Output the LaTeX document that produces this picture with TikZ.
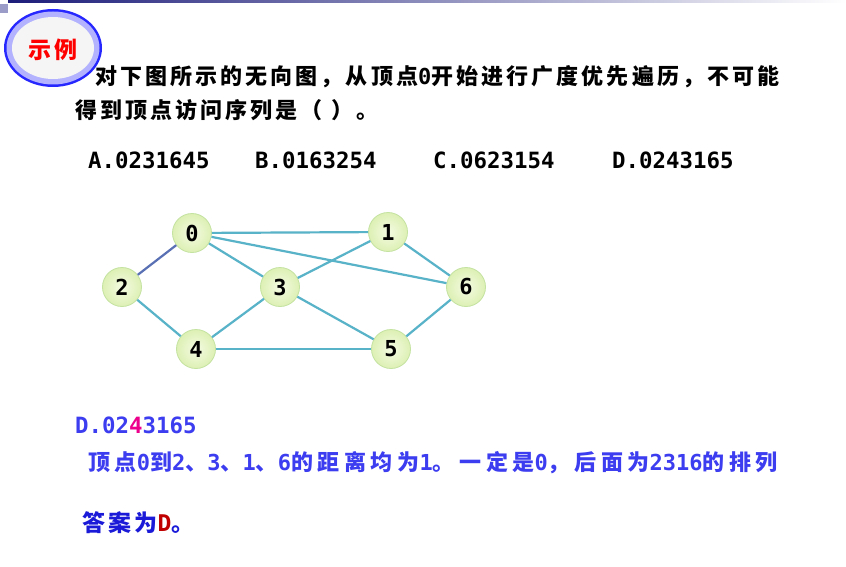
\documentclass[tikz,border=0pt]{standalone}
\usepackage{fontspec}
\usepackage{xcolor}
\usepackage{tikz}
\setmonofont{DejaVu Sans Mono}
\newfontfamily\cjk{Noto Sans CJK SC}[LetterSpace=14]
\newfontfamily\cjkwide{Noto Sans CJK SC}[LetterSpace=21]
\newcommand\dg[1]{{\ttfamily\bfseries #1}}
\definecolor{navy}{HTML}{1C1C7A}
\definecolor{edgeblue}{HTML}{58B2C8}
\definecolor{edgeslate}{HTML}{5A70B4}
\definecolor{nodein}{HTML}{F4FBE2}
\definecolor{nodeout}{HTML}{DDF0B4}
\definecolor{nodeline}{HTML}{C4E2A0}
\definecolor{textblue}{HTML}{3C3CF0}
\definecolor{ansblue}{HTML}{1A1AD8}
\definecolor{darkred}{HTML}{C00000}

\begin{document}
\begin{tikzpicture}[x=1pt, y=-1pt,
    main/.style = {circle, draw=nodeline, line width=0.8pt, inner color=nodein, outer color=nodeout, minimum size=39pt, inner sep=0pt, font=\fontsize{22}{22}\selectfont\ttfamily\bfseries},
    link/.style = {edgeblue, line width=2.2pt},
    txt/.style = {anchor=west, inner sep=0pt, font=\fontsize{22}{26}\selectfont\cjk\bfseries},
    opt/.style = {anchor=west, inner sep=0pt, font=\fontsize{22.4}{26}\selectfont\ttfamily\bfseries}]
    \useasboundingbox (0,0) rectangle (846,567);
    \fill[white] (0,0) rectangle (846,567);
    \shade[left color=navy, right color=white] (8,0) rectangle (846,3);
    \fill[blue!30!gray!60] (0,4) rectangle (8,13);
    % badge
    \fill[blue!85] (53,48) ellipse (49 and 39);
    \fill[blue!30] (53,48) ellipse (46.5 and 36.5);
    \fill[blue!3!gray!8] (53,48) ellipse (41 and 31);
    \node (badge) at (53,50) {\fontsize{23}{23}\selectfont\cjk\bfseries\color{red}示例};
    % question
    \node[txt] (q1) at (95,77) {对下图所示的无向图，从顶点\dg{0}开始进行广度优先遍历，不可能};
    \node[txt] (q2) at (75,110) {得到顶点访问序列是（ ）。};
    \node[opt] (optA) at (88,160) {A.0231645};
    \node[opt] (optB) at (255,160) {B.0163254};
    \node[opt] (optC) at (433,160) {C.0623154};
    \node[opt] (optD) at (612,160) {D.0243165};
    % graph
    \node[main] (0) at (192,233) {0};
    \node[main] (1) at (388,232) {1};
    \node[main] (2) at (122,287) {2};
    \node[main] (3) at (280,287) {3};
    \node[main] (6) at (466,287) {6};
    \node[main] (4) at (196,349) {4};
    \node[main] (5) at (391,349) {5};
    \draw[link] (0) -- (1);
    \draw[link] (0) -- (3);
    \draw[link] (0) -- (6);
    \draw[link, edgeslate] (0) -- (2);
    \draw[link] (1) -- (3);
    \draw[link] (1) -- (6);
    \draw[link] (2) -- (4);
    \draw[link] (3) -- (4);
    \draw[link] (3) -- (5);
    \draw[link] (4) -- (5);
    \draw[link] (5) -- (6);
    % answer
    \node[opt, text=textblue] (ansD) at (75,425) {D.02{\color{magenta}4}3165};
    \node[txt, text=textblue, font=\fontsize{22}{26}\selectfont\cjkwide\bfseries] (why) at (88,463) {顶点\dg{0}到\dg{2}、\dg{3}、\dg{1}、\dg{6}的距离均为\dg{1}。一定是\dg{0}，后面为\dg{2316}的排列};
    \node[txt, text=ansblue, font=\fontsize{23}{26}\selectfont\cjk\bfseries] (ans) at (82,523) {答案为{\color{darkred}\dg{D}}。};
\end{tikzpicture}
\end{document}
